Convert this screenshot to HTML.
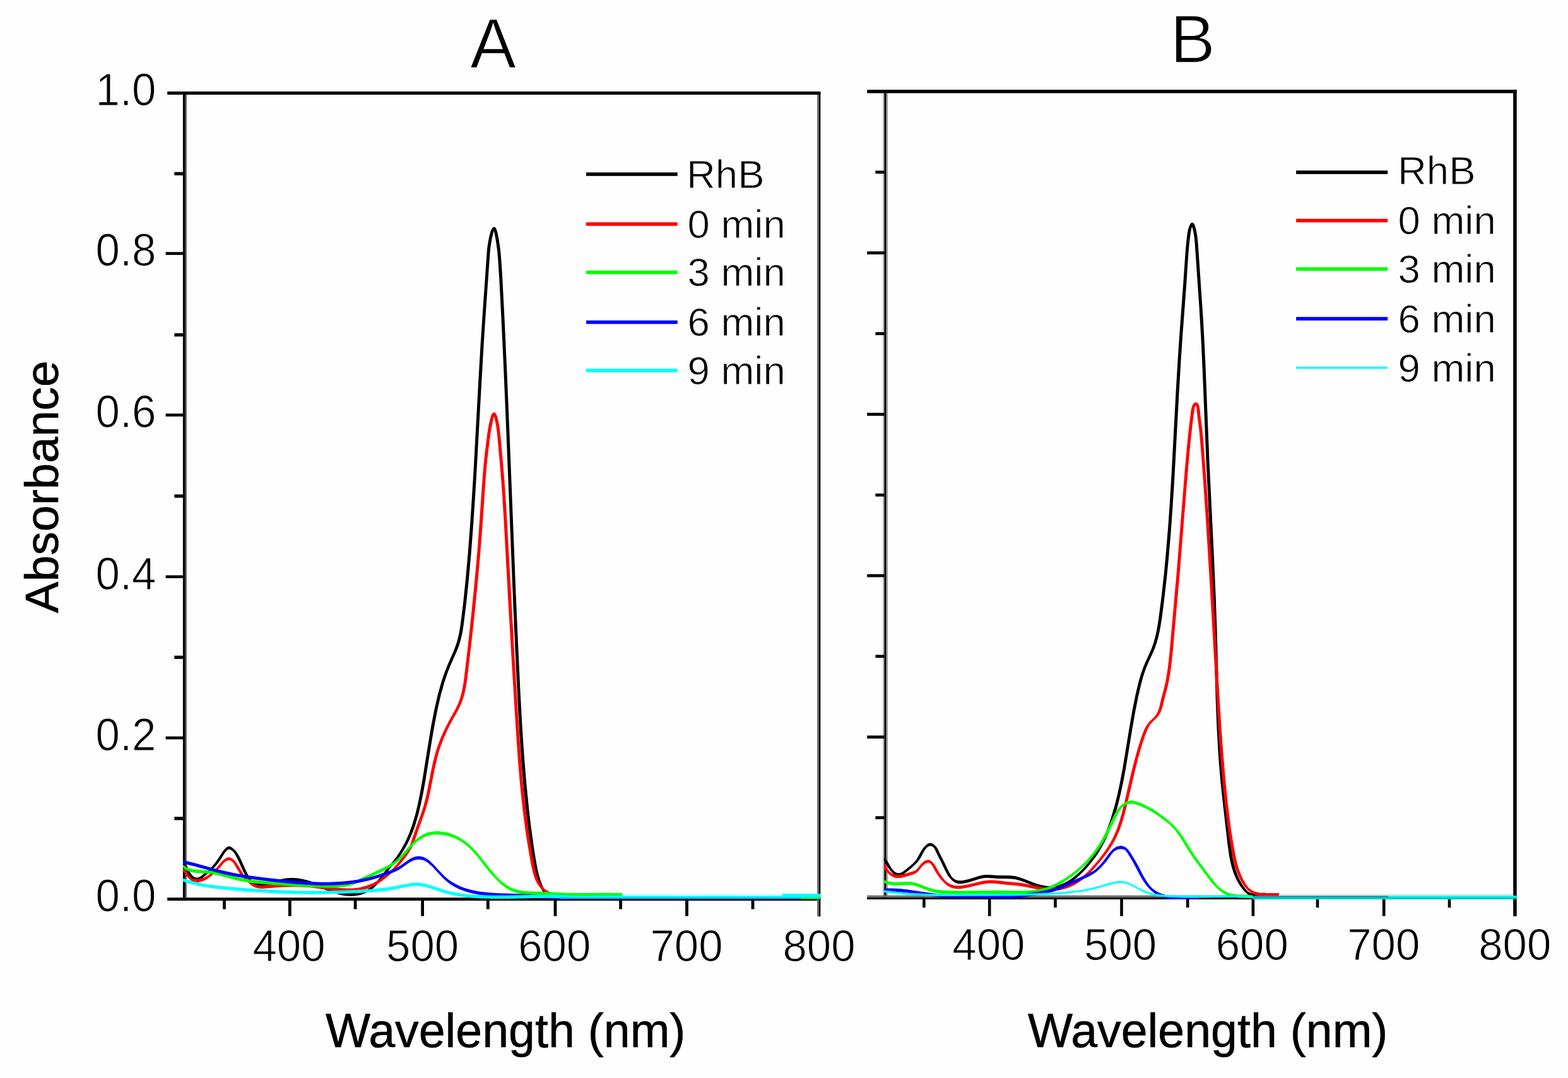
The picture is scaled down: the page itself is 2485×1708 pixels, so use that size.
<!DOCTYPE html>
<html lang="en"><head><meta charset="utf-8"><title>UV-vis absorbance spectra</title>
<style>
html,body{margin:0;padding:0;background:#fefefe;}
html,body{width:2485px;height:1708px;}
svg{display:block;font-family:"Liberation Sans", Arial, Helvetica, sans-serif;fill:#000;}
</style></head><body>
<svg width="2485" height="1708" viewBox="0 0 2485 1708">
<rect x="0" y="0" width="2485" height="1708" fill="#fefefe"/>
<defs>
<clipPath id="ca"><rect x="290" y="150" width="1010.3" height="1277"/></clipPath>
<clipPath id="cb"><rect x="1401" y="147.5" width="1003" height="1277.5"/></clipPath>
</defs>

<g id="panel-a-axes">
<rect x="265.2" y="145" width="1035.1" height="5" fill="#000"/>
<rect x="265.2" y="1422.2" width="1035.1" height="4.8" fill="#000"/>
<rect x="289.9" y="145" width="3.3" height="1282" fill="#000"/>
<rect x="293.2" y="150" width="2.4" height="1272.2" fill="#3a3a3a"/>
<rect x="1295.1" y="150" width="2.6" height="1302" fill="#686868"/>
<rect x="1297.7" y="145" width="2.6" height="1307" fill="#000"/>
<rect x="262.6" y="1166.8" width="27.4" height="4.6" fill="#000"/>
<rect x="262.6" y="911.5" width="27.4" height="4.6" fill="#000"/>
<rect x="262.6" y="655.3" width="27.4" height="4.6" fill="#000"/>
<rect x="262.6" y="399.3" width="27.4" height="4.6" fill="#000"/>
<rect x="276.3" y="1294.2" width="13.7" height="5.2" fill="#000"/>
<rect x="276.3" y="1038.8" width="13.7" height="5.2" fill="#000"/>
<rect x="276.3" y="783.4" width="13.7" height="5.2" fill="#000"/>
<rect x="276.3" y="528" width="13.7" height="5.2" fill="#000"/>
<rect x="276.3" y="272.6" width="13.7" height="5.2" fill="#000"/>
<rect x="456.9" y="1427" width="4.8" height="24.5" fill="#000"/>
<rect x="667.2" y="1427" width="4.8" height="24.5" fill="#000"/>
<rect x="877.6" y="1427" width="4.8" height="24.5" fill="#000"/>
<rect x="1086.1" y="1427" width="4.8" height="24.5" fill="#000"/>
<rect x="353.1" y="1427" width="4.8" height="13.5" fill="#000"/>
<rect x="560.7" y="1427" width="4.8" height="13.5" fill="#000"/>
<rect x="770.9" y="1427" width="4.8" height="13.5" fill="#000"/>
<rect x="981.2" y="1427" width="4.8" height="13.5" fill="#000"/>
<rect x="1190.6" y="1427" width="4.8" height="13.5" fill="#000"/>
</g>
<g id="panel-a-curves">
<path d="M288.3 1366.3L290.5 1369.8L296.3 1382.1L297.9 1384.8L301 1388.7L304.6 1392.2L307.4 1394L308.9 1394.7L310.5 1395.2L312.2 1395.4L314 1395.2L315.7 1394.7L318.7 1392.9L330.9 1382.9L336.4 1377.9L341.7 1372.3L346.5 1366.3L350 1361.3L355.5 1352.4L358.3 1348.7L360.3 1346.8L361.3 1346.2L362.9 1345.8L364.3 1345.9L366.2 1346.7L368.4 1348.4L370.4 1350.5L372.9 1354.2L377.1 1362.2L385.6 1381.2L388.5 1386.5L391.1 1390.4L394 1394.2L398.5 1398.8L402.3 1401.8L405.1 1403.3L406.6 1403.9L409.8 1404.5L413 1404.7L416.3 1404.5L422.7 1403.4L443.7 1398.3L452.3 1396.7L456.5 1396.1L460.7 1395.9L464.9 1395.9L470.5 1396.3L474.8 1396.9L480.5 1397.9L486.2 1399.4L492 1401.1L501.9 1404.6L526 1413.9L531.8 1415.8L537.6 1417.4L543.5 1418.7L549.6 1419.5L555.8 1419.8L562.1 1419.5L568.3 1418.5L573 1417.4L577.5 1415.8L581.8 1413.9L584.5 1412.4L588.3 1409.9L591.9 1407L596.3 1402.9L600.4 1398.5L604.3 1393.9L615.5 1379.4L628 1364.1L632.7 1358.1L636.2 1353.1L640.2 1346.7L644 1340.2L647.5 1333.5L653 1321.2L655.7 1314.2L658.2 1307.1L663 1291.1L667.2 1273.4L670.6 1257L674.1 1237.7L684.8 1171.1L689.2 1146L694.1 1121.1L698.8 1100.7L703.6 1083.4L706.3 1074.9L709.2 1066.4L714.1 1054L723.8 1032L726.1 1026.4L728.1 1020.6L730.2 1013.4L732 1006L733.7 997.1L735 988.1L739.1 955.1L743 917.6L746.6 877.2L750.1 830.7L752.7 791.8L755.3 748.4L763.3 603.1L766.4 549L769.3 503.8L776.4 401.8L777.6 390L779.2 380.3L781.6 369.8L782.9 365.3L783.7 363.6L782.9 363.8L782 363.7L782.6 365.3L784.1 371.5L786.5 385.4L788.1 397.5L789.3 411.6L791.3 442.2L794.3 500.8L797.5 568.5L800.8 645L813.9 972L817.5 1053L821 1122L823.6 1167.1L826.4 1207.6L829.4 1243.5L832.8 1277.9L835.6 1301.8L838.7 1325.6L841.9 1347.9L845.3 1368.7L847.3 1379.1L849.5 1388L852.2 1396.8L855.2 1404L858.2 1409.6L860 1412.2L862 1414.6L864.2 1416.9L866.7 1419L870.7 1421.5L875.3 1423.3L880.1 1424.3L885.1 1424.6L894.1 1423.9L896.7 1424.1L899.1 1424.7L900.9 1420.3L897.5 1419.3L894.1 1419L884.9 1419.6L880.7 1419.4L876.6 1418.7L872.6 1417.4L869 1415.6L865.8 1413.1L863.3 1409.9L861.9 1407.4L859.9 1403.5L857.2 1396.6L854.5 1388.1L852.4 1379.5L850.4 1369.3L847.2 1350.1L844 1327.9L841 1305.6L838.4 1283.3L834.4 1243.1L830.8 1199.7L827.6 1151.8L824.5 1094.8L821.2 1024.3L817.7 944.8L807.6 689.9L803.8 598.3L799.7 508.1L795.9 434.5L794.6 415.5L793.5 401.3L792.3 391L790.6 379.6L788.5 368.7L787 363.8L785.8 361.2L784.8 360.2L782.9 359.6L781.1 360.2L780.1 361.2L778.1 365.1L777 368.5L775.1 375.8L773.5 384.5L772.3 392.5L771.6 400L764.5 501.9L761.5 547.2L758.3 602.8L750.4 748.1L747.7 791.5L745.1 830.4L741.6 876.8L738 917.2L734 956.1L729.9 988.9L728.5 997.7L726.9 1006.4L725.1 1013.6L723.1 1020.6L719 1031.6L709.3 1053.5L704.3 1066.2L701.3 1074.8L698.6 1083.4L693.7 1100.9L689 1121.5L684 1146.6L679.7 1171.7L669 1238.3L665.5 1257.6L662.2 1273.8L658.3 1289.9L653.7 1305.6L648.7 1319.5L645.8 1326.2L642.8 1332.9L639.4 1339.4L635.8 1345.8L631.9 1352L628.5 1356.9L623.1 1364L610.5 1379.4L599.4 1393.8L593.6 1400.3L590.5 1403.2L587.2 1405.7L583.6 1407.9L579.8 1409.8L575.8 1411.4L571.7 1412.7L567.4 1413.7L561.6 1414.6L555.8 1414.8L550 1414.6L544.4 1413.9L537.4 1412.4L531.8 1410.8L524.8 1408.4L502.2 1399.6L490.5 1395.6L480.1 1392.9L474.1 1391.7L469.6 1391.2L465 1390.9L460.5 1390.9L456 1391.2L451.5 1391.8L442.6 1393.5L423.2 1398.3L415.8 1399.6L413 1399.7L410.4 1399.6L407.9 1399.2L405.6 1398.5L402.1 1396.7L399.9 1395L397 1391.7L394.5 1388.1L392.3 1384.4L389.7 1379.2L381.1 1360.2L378.1 1354.7L375.4 1350.6L372.2 1346.8L368.6 1343.4L367.3 1342.4L365.8 1341.6L364.1 1341.1L362.2 1341.1L360.5 1341.7L359 1342.6L357.7 1343.6L355.4 1346.1L351.3 1351.4L344.9 1361.5L341.5 1366.3L337.8 1370.9L333.8 1375.2L329.6 1379L318.9 1387.7L316.4 1389.4L314.2 1390.3L311.3 1390.4L309.2 1389.9L307 1388.9L305.9 1388.1L303.9 1386.1L302.2 1383.8L300.8 1381.4L295 1369.1L293.4 1366.4L291.5 1363.8Z" fill="#000000" stroke="none" clip-path="url(#ca)"/>
<path d="M288.7 1378.9L290.4 1380.9L294.8 1387L296.9 1389.5L300.2 1393.1L302.8 1395.2L305.7 1396.7L308.9 1397.6L312.3 1397.9L317.3 1397.4L320.4 1396.5L324.9 1394.7L329.1 1392.3L332.9 1389.6L337.7 1385.8L343.2 1380.6L348.3 1375L354 1368L356.1 1366L358.5 1364.4L359.7 1363.8L361.8 1363.2L363.6 1363.1L365.4 1363.6L366.4 1364.1L367.4 1364.8L369.4 1366.8L372 1370.6L378.1 1380.9L380.5 1384.7L384.4 1389.5L389.8 1395.2L395.6 1400.5L399.3 1403.4L403.4 1405.7L407.9 1407.3L411.1 1407.8L415.9 1407.9L434.3 1406.4L447.8 1405.6L462.6 1405.3L475.9 1405.5L487.7 1406.1L498.1 1407.1L528.2 1411L538.8 1412.1L549.5 1412.6L560.1 1412.4L566.1 1411.7L572 1410.7L577.9 1409.2L583.7 1407.2L589.4 1404.9L594.9 1402.2L600.3 1399.1L605.4 1395.7L610.4 1392.1L615.2 1388.2L620.8 1383.1L626.2 1377.7L632.4 1371L637.3 1365.2L642.9 1358.2L647.4 1352L652.2 1344.3L654.2 1340.2L656 1335.9L662.8 1315.7L672.4 1288.9L675.7 1278.9L678.5 1268.7L681.3 1256.9L688.6 1219.8L691.5 1206.7L694.8 1193.7L698.3 1182.5L703.6 1168.7L709.7 1155.3L715.8 1143.3L726.2 1124.9L730.2 1116.7L732.5 1111L734.4 1105.3L736.4 1098L738 1090.6L739.6 1081.6L740.8 1072.6L746.1 1027.6L751.9 975.3L756.8 926L759.8 893.1L762.5 860.3L765.1 825.9L769.4 761.4L771 741.9L772.6 725.3L775.6 700.2L778.1 682.2L781 667.2L782.3 661.8L783.1 658.9L783.8 657.4L783.6 657.3L782.6 657.5L782 657.3L782.6 658.3L783.3 660.9L785 668L786.6 676.7L787.8 685.9L793 744.2L795.9 782L798.3 820.9L805 945.1L811 1048.7L817.1 1149.1L820.7 1201.4L823.6 1237.2L826.8 1268.6L830.3 1298.5L834.3 1327L839.3 1357L842.1 1372.1L843.8 1379.6L845.8 1387L847.8 1392.7L850.3 1398.1L852.6 1402L856.2 1406.7L861.6 1412L864 1414L866.6 1415.8L872.3 1418.9L878.5 1421.3L881.6 1422.2L886.4 1423.3L891.1 1423.9L894.2 1424.1L900.2 1423.8L899.7 1418.9L894.4 1419.1L887.2 1418.4L879.9 1416.7L874.2 1414.7L868.8 1412.1L864 1409L860.9 1406.3L857.6 1402L854.9 1397.3L852.6 1392.3L850.8 1387L848.8 1379.9L847 1371.1L844.2 1356.2L839.2 1326.3L834.8 1294.9L830.9 1260.6L827.5 1224.9L824.4 1184.6L820.7 1127.9L814.4 1021.4L802.5 807.2L800.4 775.6L798.4 748.4L793.3 691.1L791.7 677.6L789.8 667L787.9 659.5L786 655.3L785.1 654.2L783.5 653.3L781.4 653.7L780.2 654.7L778.2 658.8L776.7 664.2L774.3 675.1L772.7 684.3L768.7 715.7L766.8 733.9L765 753.5L758.1 852.4L755.1 889.7L751.5 928.5L746.4 979.2L740.7 1031.5L735.7 1073.5L734.5 1082.4L732.9 1091.1L731.3 1098.3L729.8 1103.9L727.6 1110.8L725.4 1116.2L721.6 1124.1L710.5 1143.9L704.4 1156L698.2 1169.7L693.4 1182.4L689.8 1193.9L686.4 1207L683.5 1220.3L676.2 1257.3L673.4 1269L670.7 1279L666.5 1291.6L657.3 1317L651.1 1335.6L649.5 1339.6L647.6 1343.5L645.5 1347.3L642.3 1352.2L637.9 1358.1L632.4 1365.1L627.5 1370.7L622.5 1376.2L618.3 1380.4L613.8 1384.3L609.2 1388L604.4 1391.5L598.1 1395.4L592.9 1398.2L587.6 1400.7L582.1 1402.8L576.6 1404.6L571.1 1405.9L565.4 1406.8L559.7 1407.4L549.6 1407.6L539.3 1407.1L528.8 1406L497.1 1402L486.5 1401.1L476 1400.5L462.6 1400.3L449.1 1400.6L435.4 1401.3L414.3 1403L410.2 1402.8L407.7 1402.3L404 1401L401.6 1399.8L399.2 1398.3L395.7 1395.6L391.3 1391.5L387.3 1387L384.7 1383.5L377.3 1371L373.4 1365.6L371.2 1363L368.8 1360.7L366 1358.9L364.3 1358.4L362.6 1358.3L360.8 1358.5L359.2 1359.1L356.2 1360.9L353.6 1363.1L351.2 1365.4L341.6 1377L338.5 1380L335.2 1382.8L330.6 1386.3L325.6 1389.3L321.7 1391.1L317.7 1392.3L313.6 1392.9L309.7 1392.8L306.1 1391.9L303.8 1390.9L302.8 1390.1L300.8 1388.2L294.4 1379.7L291.3 1376.3Z" fill="#ff0000" stroke="none" clip-path="url(#ca)"/>
<path d="M288.3 1373.2L291.9 1376.6L294.5 1378.4L298.7 1380.5L303.1 1381.9L306.1 1382.5L310.7 1383.1L328.9 1384.1L333.3 1384.6L339.1 1385.5L349.2 1387.7L369.5 1393.3L378.3 1395.5L387.3 1397.3L397.8 1398.9L406.8 1399.9L418.9 1400.9L472.9 1404.9L492.4 1406.1L507.6 1406.6L521.2 1406.7L533.4 1406.4L542.5 1405.6L548.5 1404.7L553 1403.8L557.5 1402.5L563.2 1400.5L568.8 1398.1L582.5 1391.6L603.1 1382.2L614 1376.8L619.3 1373.7L623.1 1371.2L628 1367.6L631.6 1364.7L634.9 1361.5L639.2 1357.1L655.2 1338.9L660.5 1333.9L665.2 1330.5L668.8 1328.3L672.5 1326.4L676.4 1324.8L679.1 1324L683.2 1323.1L687.4 1322.5L691.7 1322.3L696.1 1322.4L700.6 1322.8L706.4 1323.8L712.1 1325.2L717.7 1327.1L723.1 1329.4L728.3 1332.1L733.2 1335.1L737.9 1338.5L744.5 1344.2L751.5 1351.6L758.2 1359.6L776 1382.2L782.1 1389.1L788.5 1395.7L795.3 1401.9L801.4 1406.6L808 1410.6L810.8 1411.9L815.1 1413.6L819.5 1414.9L824 1416L828.5 1416.7L834.6 1417.4L843.8 1417.8L869.4 1418.4L896.4 1419.9L917.5 1420.3L965.7 1419.9L986.6 1420.2L986.8 1415L965.7 1414.7L917.5 1415.1L896.6 1414.7L869.6 1413.2L844 1412.6L835 1412.2L829.2 1411.6L824.9 1410.9L819.3 1409.7L815.3 1408.5L808.8 1405.8L802.6 1402.2L796.7 1397.9L791.2 1392.9L786 1387.6L781 1382L762.3 1358.2L755.4 1350.1L747.1 1341.4L742.7 1337.3L738.1 1333.4L733.1 1329.9L727.9 1326.7L722.3 1323.9L718 1322L712.1 1320L707.5 1318.8L701.2 1317.7L696.4 1317.2L691.7 1317.1L686.9 1317.4L682.2 1318.1L679.1 1318.8L676.2 1319.7L671.9 1321.5L669.2 1322.9L665.2 1325.3L659.1 1329.9L653.5 1335.2L647.2 1341.9L636.3 1354.5L631.2 1359.8L627.8 1362.6L623.2 1366L618.2 1369.1L613.1 1372L602.5 1377.3L564.2 1394.9L558.7 1396.9L554.6 1398.2L549.1 1399.4L543.4 1400.3L534.6 1401.1L522.7 1401.5L509.2 1401.4L494.2 1401L465.8 1399.2L414.8 1395.4L399.9 1393.9L388.1 1392.3L378 1390.3L369.4 1388.1L349 1382.5L338.6 1380.2L329.3 1378.9L312.6 1378.1L308.3 1377.6L304.2 1376.9L300.4 1375.9L296.7 1374.4L293.3 1372.4L291.2 1370.5Z" fill="#00ff00" stroke="none" clip-path="url(#ca)"/>
<path d="M289.4 1368.1L306.8 1372.2L341.7 1381.7L356.4 1385.4L372.6 1388.8L392 1392L406.9 1394.1L424.8 1396.2L450.3 1399L469.9 1400.8L483.5 1401.8L497.1 1402.5L509.2 1402.9L521.3 1402.8L531.8 1402.5L540.9 1402L549.9 1401.2L558.9 1400.1L567.9 1398.7L575.3 1397.3L584.2 1395.3L591.6 1393.3L599 1391.1L606.3 1388.6L621.9 1383L627.5 1380.6L631.6 1378.5L634.3 1376.8L648.3 1366.9L652 1364.8L654.5 1363.7L657 1362.8L659.5 1362.2L663.2 1361.8L665.6 1361.9L669.2 1362.5L672.8 1363.7L676.4 1365.8L679.9 1368.4L685.5 1373.6L697.9 1387.1L703.3 1392.5L709.1 1397.6L714.1 1401.3L720.7 1405.3L727.6 1408.7L734.8 1411.5L743.5 1414.3L750.9 1416.1L759.8 1417.7L768.8 1418.9L779.4 1419.8L791.6 1420.4L826.4 1421.5L877.2 1424.4L889.4 1424.8L900.1 1424.9L900.1 1419.7L889.5 1419.6L877.5 1419.2L826.6 1416.3L791.8 1415.2L778.3 1414.5L767.9 1413.6L759.1 1412.4L750.5 1410.8L743.4 1409L735 1406.4L728.2 1403.7L720.3 1399.8L714 1396L709.3 1392.6L704.9 1388.7L700.7 1384.4L688.2 1370.9L683.7 1366.5L680.1 1363.3L676.3 1360.5L673.6 1358.9L670.7 1357.7L666.1 1356.7L663.1 1356.6L660 1356.9L657 1357.6L654.1 1358.7L651.2 1360L648.5 1361.6L644.6 1364.2L634.5 1371.5L630.7 1373.8L628.1 1375.2L621.6 1377.9L607.5 1383L598.9 1385.9L591.7 1388.1L584.5 1390L575.7 1392L567 1393.7L558.2 1395L549.4 1396L540.5 1396.8L531.6 1397.3L521.2 1397.7L509.3 1397.7L497.3 1397.3L483.9 1396.6L468.9 1395.5L449.4 1393.7L423.9 1390.9L406 1388.8L391.2 1386.7L372.1 1383.5L356.1 1380.1L341.5 1376.4L308.1 1367.3L290.5 1363.1Z" fill="#0000ff" stroke="none" clip-path="url(#ca)"/>
<path d="M289 1396.3L299.1 1399.7L310.8 1402.8L324.2 1405.5L337.7 1407.5L355.8 1409.5L385.8 1412.2L412.9 1414.1L438.4 1415.5L471.6 1416.5L503.3 1416.8L536.5 1416.3L568.1 1415L593.7 1413.4L610.2 1411.8L623.8 1409.7L640.4 1406.2L647.7 1404.8L655 1404L660.6 1403.8L667.5 1404.3L671.7 1405L675.9 1405.9L682.9 1408L703 1414.8L714.8 1417.9L722.3 1419.3L729.8 1420.5L738.8 1421.7L747.8 1422.5L764.4 1423.6L784 1424L805.2 1423.9L847.4 1423L865.5 1422.7L883.4 1422.9L899.8 1423.5L900.1 1418.4L883.5 1417.7L865.4 1417.5L847.3 1417.8L805.1 1418.7L784 1418.8L764.6 1418.4L748.2 1417.4L739.3 1416.5L730.5 1415.4L723.2 1414.3L715.9 1412.9L708.7 1411.2L703 1409.6L683 1402.8L675.7 1400.7L668.3 1399.2L663.7 1398.7L660.7 1398.6L654.5 1398.8L648.4 1399.5L640.9 1400.9L622.9 1404.7L609.6 1406.6L593.3 1408.2L569.4 1409.7L537.9 1411L504.8 1411.6L473.2 1411.4L440.2 1410.3L414.7 1409L389.2 1407.2L359.3 1404.7L339.8 1402.6L326.5 1400.7L313.4 1398.2L301.9 1395.3L290.7 1391.7Z" fill="#00ffff" stroke="none" clip-path="url(#ca)"/>
<rect x="986" y="1416" width="309.3" height="3.2" fill="#d8ffff"/>
<rect x="888" y="1419.2" width="407.3" height="2.6" fill="#00ffff"/>
<rect x="888" y="1421.8" width="407.3" height="2.6" fill="#00b4ff"/>
<rect x="1270" y="1421.8" width="30.3" height="2.4" fill="#00ff40"/>
<rect x="1240" y="1416" width="60.3" height="5.8" fill="#00ffff"/>
</g>
<g id="panel-a-legend">
<rect x="929" y="273.2" width="144.7" height="5.6" fill="#000000"/>
<rect x="929" y="352.2" width="144.7" height="5.6" fill="#ff0000"/>
<rect x="929" y="428.7" width="144.7" height="5.6" fill="#00ff00"/>
<rect x="929" y="507.7" width="144.7" height="5.6" fill="#0000ff"/>
<rect x="929" y="584.2" width="144.7" height="5.6" fill="#00ffff"/>
<text x="1088" y="297.6" font-size="63.5" text-anchor="start" stroke="#fefefe" stroke-width="0.9" paint-order="fill stroke">RhB</text>
<text x="1089.5" y="376.5" font-size="63.5" text-anchor="start" stroke="#fefefe" stroke-width="0.9" paint-order="fill stroke">0 min</text>
<text x="1089.5" y="453.2" font-size="63.5" text-anchor="start" stroke="#fefefe" stroke-width="0.9" paint-order="fill stroke">3 min</text>
<text x="1089.5" y="531.8" font-size="63.5" text-anchor="start" stroke="#fefefe" stroke-width="0.9" paint-order="fill stroke">6 min</text>
<text x="1089.5" y="608.9" font-size="63.5" text-anchor="start" stroke="#fefefe" stroke-width="0.9" paint-order="fill stroke">9 min</text>
</g>
<g id="panel-a-text">
<text transform="translate(781.6 107.3) scale(1.0 1.02)" font-size="109.5" text-anchor="middle" stroke="#fefefe" stroke-width="1.6" paint-order="fill stroke">A</text>
<text transform="translate(247.5 167.3) scale(1.0 1.04)" font-size="69" text-anchor="end" stroke="#fefefe" stroke-width="1" paint-order="fill stroke">1.0</text>
<text transform="translate(247.5 421.4) scale(1.0 1.04)" font-size="69" text-anchor="end" stroke="#fefefe" stroke-width="1" paint-order="fill stroke">0.8</text>
<text transform="translate(247.5 677.4) scale(1.0 1.04)" font-size="69" text-anchor="end" stroke="#fefefe" stroke-width="1" paint-order="fill stroke">0.6</text>
<text transform="translate(247.5 933.6) scale(1.0 1.04)" font-size="69" text-anchor="end" stroke="#fefefe" stroke-width="1" paint-order="fill stroke">0.4</text>
<text transform="translate(247.5 1188.9) scale(1.0 1.04)" font-size="69" text-anchor="end" stroke="#fefefe" stroke-width="1" paint-order="fill stroke">0.2</text>
<text transform="translate(247.5 1444.3) scale(1.0 1.04)" font-size="69" text-anchor="end" stroke="#fefefe" stroke-width="1" paint-order="fill stroke">0.0</text>
<text transform="translate(458 1522.6) scale(1.0 1.02)" font-size="69" text-anchor="middle" stroke="#fefefe" stroke-width="1" paint-order="fill stroke">400</text>
<text transform="translate(669.6 1522.6) scale(1.0 1.02)" font-size="69" text-anchor="middle" stroke="#fefefe" stroke-width="1" paint-order="fill stroke">500</text>
<text transform="translate(878.7 1522.6) scale(1.0 1.02)" font-size="69" text-anchor="middle" stroke="#fefefe" stroke-width="1" paint-order="fill stroke">600</text>
<text transform="translate(1088 1522.6) scale(1.0 1.02)" font-size="69" text-anchor="middle" stroke="#fefefe" stroke-width="1" paint-order="fill stroke">700</text>
<text transform="translate(1298 1522.6) scale(1.0 1.02)" font-size="69" text-anchor="middle" stroke="#fefefe" stroke-width="1" paint-order="fill stroke">800</text>
<text x="801.2" y="1659.4" font-size="75.3" text-anchor="middle" stroke="#000" stroke-width="0.6">Wavelength (nm)</text>
<text transform="translate(91.6 771.3) rotate(-90)" font-size="75" text-anchor="middle" stroke="#000" stroke-width="0.6">Absorbance</text>
</g>
<g id="panel-b-axes">
<rect x="1399" y="147.6" width="2.4" height="1277.4" fill="#b8b8b8"/>
<rect x="1404.4" y="147.6" width="2.4" height="1274.2" fill="#909090"/>
<rect x="1401.4" y="145" width="3" height="1280" fill="#000"/>
<rect x="1374.2" y="142.2" width="1029.5" height="5.4" fill="#000"/>
<rect x="1374.2" y="1418.6" width="1029.5" height="3.2" fill="#707070"/>
<rect x="1374.2" y="1421.8" width="1029.5" height="3.2" fill="#000"/>
<rect x="2398.2" y="142.2" width="5.5" height="1309.5" fill="#000"/>
<rect x="1374.2" y="1165.4" width="27.2" height="4.8" fill="#000"/>
<rect x="1374.2" y="909.7" width="27.2" height="4.8" fill="#000"/>
<rect x="1374.2" y="654" width="27.2" height="4.8" fill="#000"/>
<rect x="1374.2" y="398.3" width="27.2" height="4.8" fill="#000"/>
<rect x="1387.4" y="1293.2" width="14" height="4.8" fill="#000"/>
<rect x="1387.4" y="1037.5" width="14" height="4.8" fill="#000"/>
<rect x="1387.4" y="781.9" width="14" height="4.8" fill="#000"/>
<rect x="1387.4" y="526.2" width="14" height="4.8" fill="#000"/>
<rect x="1387.4" y="270.4" width="14" height="4.8" fill="#000"/>
<rect x="1565.9" y="1425" width="4.6" height="26.5" fill="#000"/>
<rect x="1775.2" y="1425" width="4.6" height="26.5" fill="#000"/>
<rect x="1983.6" y="1425" width="4.6" height="26.5" fill="#000"/>
<rect x="2190.9" y="1425" width="4.6" height="26.5" fill="#000"/>
<rect x="1462.1" y="1425" width="4.6" height="13" fill="#000"/>
<rect x="1670.2" y="1425" width="4.6" height="13" fill="#000"/>
<rect x="1879.9" y="1425" width="4.6" height="13" fill="#000"/>
<rect x="2085.7" y="1425" width="4.6" height="13" fill="#000"/>
<rect x="2294.7" y="1425" width="4.6" height="13" fill="#000"/>
</g>
<g id="panel-b-curves">
<path d="M1399.3 1361.2L1401.1 1363.8L1407.6 1374.9L1410.7 1379L1414.3 1382.9L1418.1 1386.3L1421.1 1387.9L1422.7 1388.3L1424.4 1388.5L1426.1 1388.3L1429.1 1387.1L1431.9 1385.4L1444.3 1375.4L1449.9 1370.3L1454.1 1366L1457 1362.3L1459.4 1358.4L1464.4 1349.1L1466 1346.6L1467.7 1344.3L1469.7 1342.3L1471.9 1341L1473.9 1340.5L1475.6 1340.6L1477.8 1341.5L1478.9 1342.2L1479.8 1343.1L1481.3 1345.3L1485.1 1353.5L1491.3 1365.6L1498.3 1380.3L1500.6 1384.6L1502.3 1387.4L1505.3 1391.3L1508.6 1394.8L1512.3 1397.7L1515.1 1399.1L1518.2 1399.9L1521.4 1400.2L1524.6 1400.1L1527.8 1399.7L1535.9 1397.8L1551.9 1392.8L1557.4 1391.6L1561.4 1391.1L1566.9 1391L1580.7 1392L1596.1 1392.2L1602 1392.4L1609 1393.2L1615.8 1394.9L1622.5 1397.3L1638 1403.5L1644 1405.5L1648.6 1406.8L1654.7 1408.1L1659.4 1408.8L1664 1409.1L1668.7 1408.9L1673.2 1408.4L1679.1 1407L1683.4 1405.4L1689 1402.9L1694.3 1399.8L1699.4 1396.3L1705.6 1391.5L1711.4 1386.3L1718 1379.7L1724.2 1373L1730.1 1366.1L1734.7 1360.1L1739 1353.9L1743.8 1346.3L1747.5 1339.7L1751.6 1331.7L1754.8 1324.8L1758.4 1316.4L1761.6 1307.9L1764.6 1299.3L1767.4 1290.6L1770.4 1280.5L1773.1 1270.3L1775.9 1258.6L1780 1239.5L1783.9 1218.9L1795.4 1149.2L1799.6 1125.6L1804 1103.6L1808.7 1083.2L1812.3 1070.3L1816.1 1059.1L1819.5 1050.9L1828.3 1031.7L1830.6 1026L1833.1 1018.8L1835.5 1010.1L1837.6 1001.2L1839.5 990.8L1841.4 978.9L1845.2 949L1849 916.1L1852.2 883.2L1855.3 847.3L1858.1 808.4L1860.9 765L1868.6 621.1L1871.6 570.1L1874.2 531.1L1880.3 448.9L1883.3 402.8L1884.9 384.7L1886.9 369.1L1888.3 361.7L1889.5 358L1890.3 356.6L1889.6 356.9L1888.5 356.5L1890.4 363.4L1891.6 369L1892.7 376.2L1893.5 383.6L1900.7 488.8L1903.4 535.2L1905.9 589.1L1911.5 728.7L1919.1 884.5L1921.7 944.4L1923.7 999.9L1926.6 1106.6L1928.4 1151.6L1930.1 1183.1L1932 1211.5L1934.5 1239.9L1937.8 1271.2L1945.6 1338.7L1948.2 1356.7L1950.3 1367.1L1952.6 1375.9L1955.5 1384.5L1958.4 1391.4L1962.7 1399.5L1965.2 1403.4L1967.9 1407.1L1970.8 1410.8L1974.1 1414.3L1976.5 1416.5L1979.1 1418.5L1982.1 1420L1983.7 1420.6L1987.2 1421.4L1989 1421.5L1992.9 1421.2L2001.8 1419.6L2005.5 1419.6L2006.3 1419.8L2006.9 1420.3L2007.4 1421L2007.9 1422.2L2012.1 1420.8L2011.2 1418.8L2010 1417.2L2008.5 1416L2006.7 1415.2L2004.9 1414.7L2003.1 1414.6L2001.2 1414.7L1992.2 1416.3L1989.1 1416.5L1985 1416L1982.5 1415.2L1980.1 1414.1L1976.7 1411.6L1973.8 1408.3L1969.5 1402.3L1965 1394.7L1961.4 1386.9L1958.5 1378.7L1956.1 1370.3L1953.8 1360.3L1952.3 1351.5L1950.9 1341.1L1944.9 1290L1940.7 1251.3L1937.7 1220L1935.4 1188.7L1933.6 1155.8L1931.7 1107.9L1928.6 998.3L1926.5 939.7L1923.9 881.3L1916.8 735.9L1910.4 576.9L1908.7 540.9L1906.9 507.9L1898.9 389.3L1898 378.7L1897.2 372.6L1896.1 366.6L1895.1 362.2L1893.8 357.9L1892.7 355L1891.7 353.6L1889.4 352.6L1887.4 353.5L1886.4 354.7L1884.3 358.9L1882.9 363.5L1882 368.3L1880.9 376.3L1879 394.9L1875.2 450L1869.1 532.3L1866.5 571.3L1863.4 623.8L1856.3 757.2L1854 794.6L1851.7 829L1848.3 870.8L1844.7 909.6L1840.5 946.9L1836 981.2L1834.4 991.5L1832.5 1001.7L1830.5 1010.3L1828.1 1018.8L1825.7 1025.8L1823.5 1031.2L1814.7 1050.4L1811.2 1058.9L1807.7 1068.9L1804 1082L1799.2 1102.5L1794.5 1126.1L1790.3 1149.9L1779.1 1218L1775.2 1238.6L1771.2 1257.5L1768.4 1269.1L1765.7 1279.2L1760.1 1297.8L1757.2 1306.3L1754 1314.7L1750.6 1322.9L1746.9 1331L1742.9 1338.9L1739.3 1345.4L1734.7 1352.9L1730.5 1358.9L1725.2 1365.9L1720.4 1371.6L1715.4 1377.2L1710 1382.5L1705.4 1386.6L1699.5 1391.3L1694.6 1394.6L1689.6 1397.6L1684.4 1400L1679.1 1402L1673.8 1403.3L1669.7 1403.9L1665.5 1404.1L1659.9 1403.8L1655.5 1403.3L1649.7 1402.1L1643.9 1400.5L1638.2 1398.6L1621.5 1391.9L1615.8 1389.9L1611.4 1388.7L1608.4 1388.1L1600.8 1387.3L1580.8 1387L1567.2 1386L1561 1386.1L1556.5 1386.8L1552.1 1387.8L1536.1 1392.7L1528.5 1394.6L1524.2 1395.2L1521.5 1395.2L1517.7 1394.9L1515.4 1394.3L1512.2 1392.7L1510.2 1391L1508.3 1388.9L1505.9 1385.1L1503 1379.7L1496.6 1366.3L1490.5 1354.3L1486.6 1345.9L1484.9 1343.1L1482.8 1340.4L1480.2 1338L1478.7 1337L1477 1336.2L1475.2 1335.7L1473.2 1335.8L1471.4 1336.3L1469.8 1337.1L1467.1 1339.4L1463.7 1343L1461.8 1345.5L1460 1348.2L1452.7 1361.2L1450.3 1364.6L1447.4 1367.6L1443 1371.4L1432 1380.2L1428.4 1382.5L1426.1 1383.3L1423.4 1383.6L1421.5 1383.1L1419.2 1382L1418 1381.2L1415.8 1379.1L1413.8 1376.6L1412 1373.9L1406.2 1364L1402.6 1358.8Z" fill="#000000" stroke="none" clip-path="url(#cb)"/>
<path d="M1398.9 1369.3L1400.4 1374.1L1402.9 1378.5L1406 1382.3L1409.5 1385.7L1413.5 1388.5L1416.4 1389.9L1419.5 1390.9L1421.1 1391.1L1424.4 1391.3L1427.6 1391L1432.4 1389.9L1447.3 1385.4L1450.3 1384.2L1453 1382.4L1455.3 1380.2L1462.3 1371.8L1464.4 1369.8L1466.7 1368.3L1469.1 1367.4L1471 1367.1L1472.7 1367.3L1474.5 1368.3L1476.3 1370.2L1477.9 1372.8L1482.6 1381.2L1485.8 1386.3L1490.2 1392.2L1495.5 1398.1L1500.3 1402.4L1504.3 1405.1L1508.7 1407L1513.4 1408L1516.5 1408.3L1519.7 1408.4L1526 1407.8L1535.3 1406.1L1551.4 1402.1L1557.1 1400.9L1564.2 1399.8L1571.3 1399.5L1578.7 1399.9L1596.8 1402L1611.7 1403.2L1617.5 1403.9L1626.1 1405.4L1645.2 1409.4L1654.3 1410.8L1663.6 1411.5L1671.4 1411.3L1677.6 1410.7L1683.7 1409.5L1688.2 1408.3L1694 1406.3L1698.3 1404.5L1703.7 1401.7L1708.9 1398.5L1713.9 1395L1718.6 1391.2L1724.3 1386.1L1729.7 1380.7L1734.9 1375.1L1740.9 1368.2L1747.6 1359.9L1753.2 1352.7L1757.6 1346.5L1764.1 1336.3L1767.1 1331L1769.8 1325.6L1774.6 1314.5L1779 1301.7L1782 1291.5L1785.4 1278.2L1797.7 1225.4L1803.1 1203.7L1808.8 1183.6L1814.8 1165.2L1818.6 1155.7L1820.5 1151.9L1822.7 1148.3L1825.3 1144.9L1833 1137.4L1835.2 1135L1837.9 1131.1L1840 1126.9L1841.6 1122.4L1842.9 1117.9L1845.7 1105.9L1850 1090L1852.5 1078.2L1854.4 1067.8L1856.1 1055.9L1857.5 1043.9L1859 1028.8L1869.6 909.1L1880.9 766.8L1883.7 734L1886.4 704.2L1889.4 675.8L1892.6 650.1L1893.4 645.9L1894.1 643.6L1895.4 641.6L1894.9 641.7L1895.7 643.1L1896.4 647.1L1897.5 658.7L1900.2 679.1L1901.4 690.7L1904.4 728.3L1907.8 774.8L1911.8 834.7L1915.9 902.1L1928.7 1122.6L1931.1 1160.1L1933.6 1194.5L1937.2 1236.4L1941.1 1275.2L1945.2 1308L1949.5 1336.4L1952.2 1351.4L1954.7 1363.3L1957 1372.2L1959.8 1380.9L1963.2 1389.3L1966.6 1396.1L1970.7 1402.5L1972.5 1405L1975.5 1408.5L1978.9 1411.8L1982.6 1414.7L1987 1417L1991.8 1418.5L1996.7 1419.5L2003 1420L2020.7 1419.9L2026.7 1420.1L2027.1 1415.1L2020.8 1414.9L2003.1 1415L1998.8 1414.7L1994.3 1414.1L1988.6 1412.7L1984.8 1411L1981.4 1408.8L1978.3 1406L1974.9 1401.4L1970.5 1394L1967.4 1387.5L1964.2 1379.3L1961.6 1370.9L1959.4 1362.2L1957.3 1352L1954.6 1337.1L1952.2 1322.2L1949.9 1305.9L1945.7 1271.7L1941.6 1230L1937.8 1183.7L1935.5 1150.7L1933.1 1113.3L1923.1 939.3L1917.4 844.9L1911.9 762.5L1907.1 699.3L1905.6 682.8L1902.6 659.7L1901.3 646.4L1900.5 642.9L1899 639.8L1897.9 638.5L1896.1 637.5L1893.7 637.7L1892.1 638.8L1891.1 640.2L1889.4 643.1L1888.4 646.2L1887.7 649.3L1886.9 655.5L1883.8 681.3L1880.9 709.7L1877.7 745.5L1865 904.2L1853.9 1029.9L1852.4 1044.8L1850.8 1058.2L1849 1070L1847.2 1080.2L1844.9 1090.3L1840.6 1106.2L1837.5 1119.6L1836.2 1123.8L1834.7 1127.8L1832.7 1131.5L1831.2 1133.7L1829.3 1135.9L1821.5 1143.5L1817.6 1148.4L1815.2 1152.4L1813.2 1156.5L1809.4 1166.5L1803.4 1185.1L1797.7 1205.3L1792.6 1225.8L1780.3 1278.6L1777 1291.6L1774 1301.7L1769.7 1314.2L1765.1 1325L1762.5 1330.3L1759.6 1335.4L1753.3 1345.4L1749.1 1351.5L1743.6 1358.7L1737 1366.9L1731.1 1373.8L1726 1379.2L1721.7 1383.4L1717.3 1387.3L1712.7 1390.9L1707.9 1394.2L1702.9 1397.1L1697.7 1399.7L1692.4 1401.9L1686.9 1403.7L1682.7 1404.8L1676.9 1405.8L1671.1 1406.3L1663.7 1406.5L1654.8 1405.9L1646.1 1404.5L1625.6 1400.3L1616.7 1398.8L1597.3 1397.1L1579.1 1395L1571.4 1394.5L1565.2 1394.7L1557.7 1395.8L1550.3 1397.4L1535.7 1401L1526.9 1402.7L1519.6 1403.4L1515.4 1403.3L1512.7 1402.9L1508.8 1402L1505.1 1400.5L1501.5 1398.3L1499.2 1396.4L1497.1 1394.3L1493.3 1389.8L1490 1385.2L1487.1 1380.4L1482.4 1372L1480.4 1369.1L1478.3 1366.5L1475.9 1364.3L1474.5 1363.3L1473 1362.6L1471.2 1362.3L1469.4 1362.4L1467.7 1362.9L1464.5 1364.6L1461.8 1366.9L1459.5 1369.3L1452.6 1377.5L1451.6 1378.4L1449.5 1379.7L1447.2 1380.5L1432.6 1384.8L1428.3 1385.8L1425.5 1386.2L1421.7 1386.2L1418 1385.5L1414.3 1384L1410.8 1381.7L1408.8 1379.8L1406.5 1376.3L1404.7 1372.4L1403.6 1368.4Z" fill="#ff0000" stroke="none" clip-path="url(#cb)"/>
<path d="M1399.9 1398.7L1402.9 1400.1L1405.9 1401.1L1409 1401.9L1413.6 1402.6L1421.4 1402.8L1433.6 1402.3L1439.5 1402.3L1443.9 1402.5L1448 1403.1L1450.8 1403.7L1454.9 1405L1470.4 1411.1L1477.8 1413.4L1482.4 1414.4L1486.9 1415.1L1497.7 1416.1L1508.3 1416.4L1522 1416.5L1580.5 1415.9L1613.9 1416.3L1624.6 1416.2L1633.7 1415.7L1642.8 1414.7L1650.3 1413.3L1657.7 1411.2L1664.8 1408.6L1673.2 1404.8L1681.3 1400.4L1690.4 1394.8L1699.2 1388.6L1706.4 1383L1714.4 1376L1722.1 1368.6L1729.3 1360.8L1736.2 1352.6L1741.6 1345.2L1747.5 1336.3L1752.1 1328.5L1757.1 1319.4L1771.1 1290.4L1773.3 1286.4L1775.8 1282.8L1777.5 1280.5L1779.5 1278.6L1781.7 1276.9L1784 1275.6L1786.4 1274.5L1788.8 1273.8L1791.1 1273.4L1793.5 1273.3L1796 1273.6L1798.6 1274.2L1806.8 1276.9L1814.9 1280.5L1822.9 1284.7L1832 1290.3L1841.9 1297.3L1851.2 1304.5L1857.6 1310.3L1862.4 1315.6L1866.8 1321.5L1871.8 1329L1883 1347.3L1888 1354.9L1893.2 1362.2L1914.7 1391.3L1919.5 1397.4L1924.6 1403.2L1930 1408.7L1934.6 1412.6L1939.6 1416.1L1943.6 1418.2L1948 1419.9L1952.6 1421.1L1957.3 1421.9L1962.2 1422.4L1979.2 1423L1984.6 1423.5L1985.3 1418.5L1979.5 1417.9L1961 1417.2L1956.4 1416.7L1952.1 1416L1948.1 1414.9L1943 1412.8L1939.3 1410.8L1934.7 1407.6L1931.5 1404.9L1927.4 1400.7L1923.6 1396.1L1918.9 1390.1L1898.3 1362.2L1893.2 1355L1888.3 1347.5L1877.1 1329.3L1872 1321.6L1866.4 1314.3L1860.3 1307.6L1852.6 1300.6L1844.4 1294L1834.4 1286.8L1825.2 1280.9L1815.6 1275.7L1807.1 1271.9L1799.9 1269.4L1796.9 1268.7L1793.7 1268.3L1792.1 1268.3L1789 1268.7L1786 1269.6L1783.2 1271L1780.5 1272.7L1778.1 1274.6L1774.7 1277.9L1771.6 1281.5L1768.8 1285.4L1765.6 1291L1752.4 1318.6L1747.5 1327.6L1742.2 1336.6L1736.5 1345.3L1731.1 1352.5L1724.5 1360.6L1718.3 1367.1L1711.9 1373.2L1705.1 1379L1698 1384.4L1689.4 1390.4L1680.4 1395.8L1672.5 1400L1664.4 1403.7L1657.6 1406.2L1650.6 1408.1L1642.1 1409.7L1633.3 1410.6L1624.4 1411.1L1613.9 1411.2L1580.5 1410.8L1522 1411.4L1508.4 1411.3L1497.9 1411L1487.6 1410.1L1481.8 1409.2L1477.6 1408.3L1470.6 1406.1L1455 1399.9L1450.5 1398.6L1447.5 1397.9L1442.8 1397.3L1438.1 1397.2L1421.3 1397.7L1414.1 1397.5L1409.9 1397L1407.2 1396.4L1404.6 1395.6L1402 1394.6Z" fill="#00ff00" stroke="none" clip-path="url(#cb)"/>
<path d="M1401.2 1412.9L1407.1 1412.6L1413 1412.5L1424.9 1413.2L1438.2 1414.6L1468 1419.1L1481.5 1420.8L1496.6 1422L1514.8 1422.5L1547.9 1422.7L1582.6 1423.3L1593.2 1423.2L1603.8 1422.9L1614.3 1422.2L1624.9 1421.1L1635.3 1419.5L1653.2 1416.5L1660.7 1415L1666.7 1413.6L1672.6 1411.8L1679.7 1409.2L1688.1 1405.7L1717 1392.7L1725.3 1388.9L1730.7 1386L1734.6 1383.6L1738.3 1380.7L1741.7 1377.6L1746 1373.3L1753 1365.4L1761.2 1353.9L1763.1 1351.6L1765.1 1349.5L1767.2 1347.9L1770.7 1346.2L1773 1345.5L1776.6 1345.2L1778.9 1345.4L1781.1 1346L1783.2 1347.1L1785.1 1349L1787.6 1352.7L1793.8 1363L1798 1370.6L1807.3 1388.2L1813 1397.6L1816.7 1402.7L1821.8 1408.4L1826.2 1412.6L1831.1 1416.3L1836.5 1419.3L1842.2 1421.6L1848.2 1423.3L1855.9 1424.7L1860.6 1425.1L1866.9 1425.2L1889.5 1424.4L1895.3 1424.6L1899.6 1425.1L1900.4 1420.1L1895.7 1419.6L1891 1419.3L1884.9 1419.4L1866.8 1420.1L1860.9 1420L1855.1 1419.4L1847.9 1418.1L1842.4 1416.5L1835.9 1413.9L1831 1411.1L1827.6 1408.7L1824.5 1405.8L1820.8 1401.4L1817.4 1396.5L1811.9 1387.4L1803.4 1371.1L1799.1 1363.4L1793.7 1354.4L1790.2 1349L1787 1345.2L1784.5 1342.9L1783.1 1342L1780 1340.7L1776.8 1340.1L1773.5 1340.4L1770.3 1341.3L1767.4 1342.7L1763.6 1345.6L1761.3 1347.9L1758.1 1351.5L1748.9 1364.1L1743.3 1370.7L1740.2 1373.8L1737 1376.7L1734.7 1378.4L1731.1 1380.8L1726 1383.5L1716.5 1387.9L1687.6 1400.8L1679.4 1404.2L1672.5 1406.8L1666.9 1408.5L1661.1 1409.8L1653.8 1411.3L1636 1414.3L1624.2 1416L1613.9 1417.1L1603.6 1417.8L1593.1 1418.1L1582.6 1418.2L1548 1417.6L1514.8 1417.4L1496.9 1416.9L1480.6 1415.6L1468.7 1414.1L1438.9 1409.6L1425.3 1408.1L1413.1 1407.4L1407 1407.5L1400.8 1407.8Z" fill="#0000ff" stroke="none" clip-path="url(#cb)"/>
<path d="M1400.7 1413.7L1417.2 1416L1435.2 1417.8L1454.7 1419L1475.8 1419.7L1502.9 1419.9L1603.7 1419.5L1627.8 1419.1L1648.8 1418.5L1666.9 1417.6L1684.9 1416.4L1701.4 1414.8L1714.9 1413L1725.4 1411.1L1734.3 1409.1L1757.6 1402.4L1764.9 1400.5L1770.7 1399.4L1776.2 1399L1778.9 1399.2L1782.9 1399.9L1785.6 1400.7L1789.6 1402.1L1796.3 1405.3L1809.9 1412.5L1814.1 1414.5L1818.4 1416.2L1822.8 1417.5L1828.6 1418.9L1839.1 1420.5L1846.6 1421.2L1857.1 1421.8L1879.6 1422.4L1900.7 1422.5L1955 1421.9L1971.4 1422.1L1984.9 1422.5L1985 1419.1L1971.5 1418.7L1955 1418.5L1900.7 1419.1L1878.2 1419L1855.7 1418.3L1845.3 1417.7L1838 1417L1827.9 1415.4L1822.2 1414L1818.1 1412.6L1813.9 1411L1809.9 1409.1L1796.3 1401.9L1789.4 1398.7L1785.2 1397.1L1782.3 1396.4L1779.3 1395.9L1776.3 1395.6L1771.7 1395.9L1765.7 1397L1758.2 1398.8L1740.7 1404L1733.5 1405.9L1724.7 1407.9L1714.4 1409.7L1701 1411.4L1684.6 1413L1666.7 1414.3L1648.7 1415.1L1627.7 1415.7L1603.7 1416.1L1502.9 1416.5L1475.9 1416.3L1454.9 1415.6L1435.5 1414.4L1417.6 1412.6L1401.2 1410.4Z" fill="#00ffff" stroke="none" clip-path="url(#cb)"/>
<rect x="2027" y="1416" width="371.2" height="3.2" fill="#ffe2e2"/>
<rect x="1985" y="1419.2" width="413.2" height="2.6" fill="#00a8a8"/>
<rect x="1985" y="1421.8" width="413.2" height="3.2" fill="#00c8c8"/>
<rect x="2200" y="1419" width="203.7" height="3" fill="#00f0f0"/>
<rect x="2200" y="1422" width="203.7" height="2.6" fill="#00c8b4"/>
</g>
<g id="panel-b-legend">
<rect x="2054.1" y="270.2" width="145.1" height="5.6" fill="#000000"/>
<rect x="2054.1" y="346.7" width="145.1" height="5.6" fill="#ff0000"/>
<rect x="2054.1" y="423.4" width="145.1" height="5.6" fill="#00ff00"/>
<rect x="2054.1" y="502.2" width="145.1" height="5.6" fill="#0000ff"/>
<rect x="2054.1" y="581" width="145.1" height="3.4" fill="#00ffff"/>
<text x="2215" y="291.5" font-size="63.5" text-anchor="start" stroke="#fefefe" stroke-width="0.9" paint-order="fill stroke">RhB</text>
<text x="2215.5" y="370.8" font-size="63.5" text-anchor="start" stroke="#fefefe" stroke-width="0.9" paint-order="fill stroke">0 min</text>
<text x="2215.5" y="448.4" font-size="63.5" text-anchor="start" stroke="#fefefe" stroke-width="0.9" paint-order="fill stroke">3 min</text>
<text x="2215.5" y="526.7" font-size="63.5" text-anchor="start" stroke="#fefefe" stroke-width="0.9" paint-order="fill stroke">6 min</text>
<text x="2215.5" y="605.1" font-size="63.5" text-anchor="start" stroke="#fefefe" stroke-width="0.9" paint-order="fill stroke">9 min</text>
</g>
<g id="panel-b-text">
<text transform="translate(1890.3 98.8) scale(1.0 1.01)" font-size="107" text-anchor="middle" stroke="#fefefe" stroke-width="1.6" paint-order="fill stroke">B</text>
<text transform="translate(1566.9 1520.9) scale(1.0 1.03)" font-size="69" text-anchor="middle" stroke="#fefefe" stroke-width="1" paint-order="fill stroke">400</text>
<text transform="translate(1775.6 1520.9) scale(1.0 1.03)" font-size="69" text-anchor="middle" stroke="#fefefe" stroke-width="1" paint-order="fill stroke">500</text>
<text transform="translate(1984.3 1520.9) scale(1.0 1.03)" font-size="69" text-anchor="middle" stroke="#fefefe" stroke-width="1" paint-order="fill stroke">600</text>
<text transform="translate(2192.7 1520.9) scale(1.0 1.03)" font-size="69" text-anchor="middle" stroke="#fefefe" stroke-width="1" paint-order="fill stroke">700</text>
<text transform="translate(2400.8 1520.9) scale(1.0 1.03)" font-size="69" text-anchor="middle" stroke="#fefefe" stroke-width="1" paint-order="fill stroke">800</text>
<text x="1914.2" y="1659.4" font-size="75.3" text-anchor="middle" stroke="#000" stroke-width="0.6">Wavelength (nm)</text>
</g>
</svg>
</body></html>
